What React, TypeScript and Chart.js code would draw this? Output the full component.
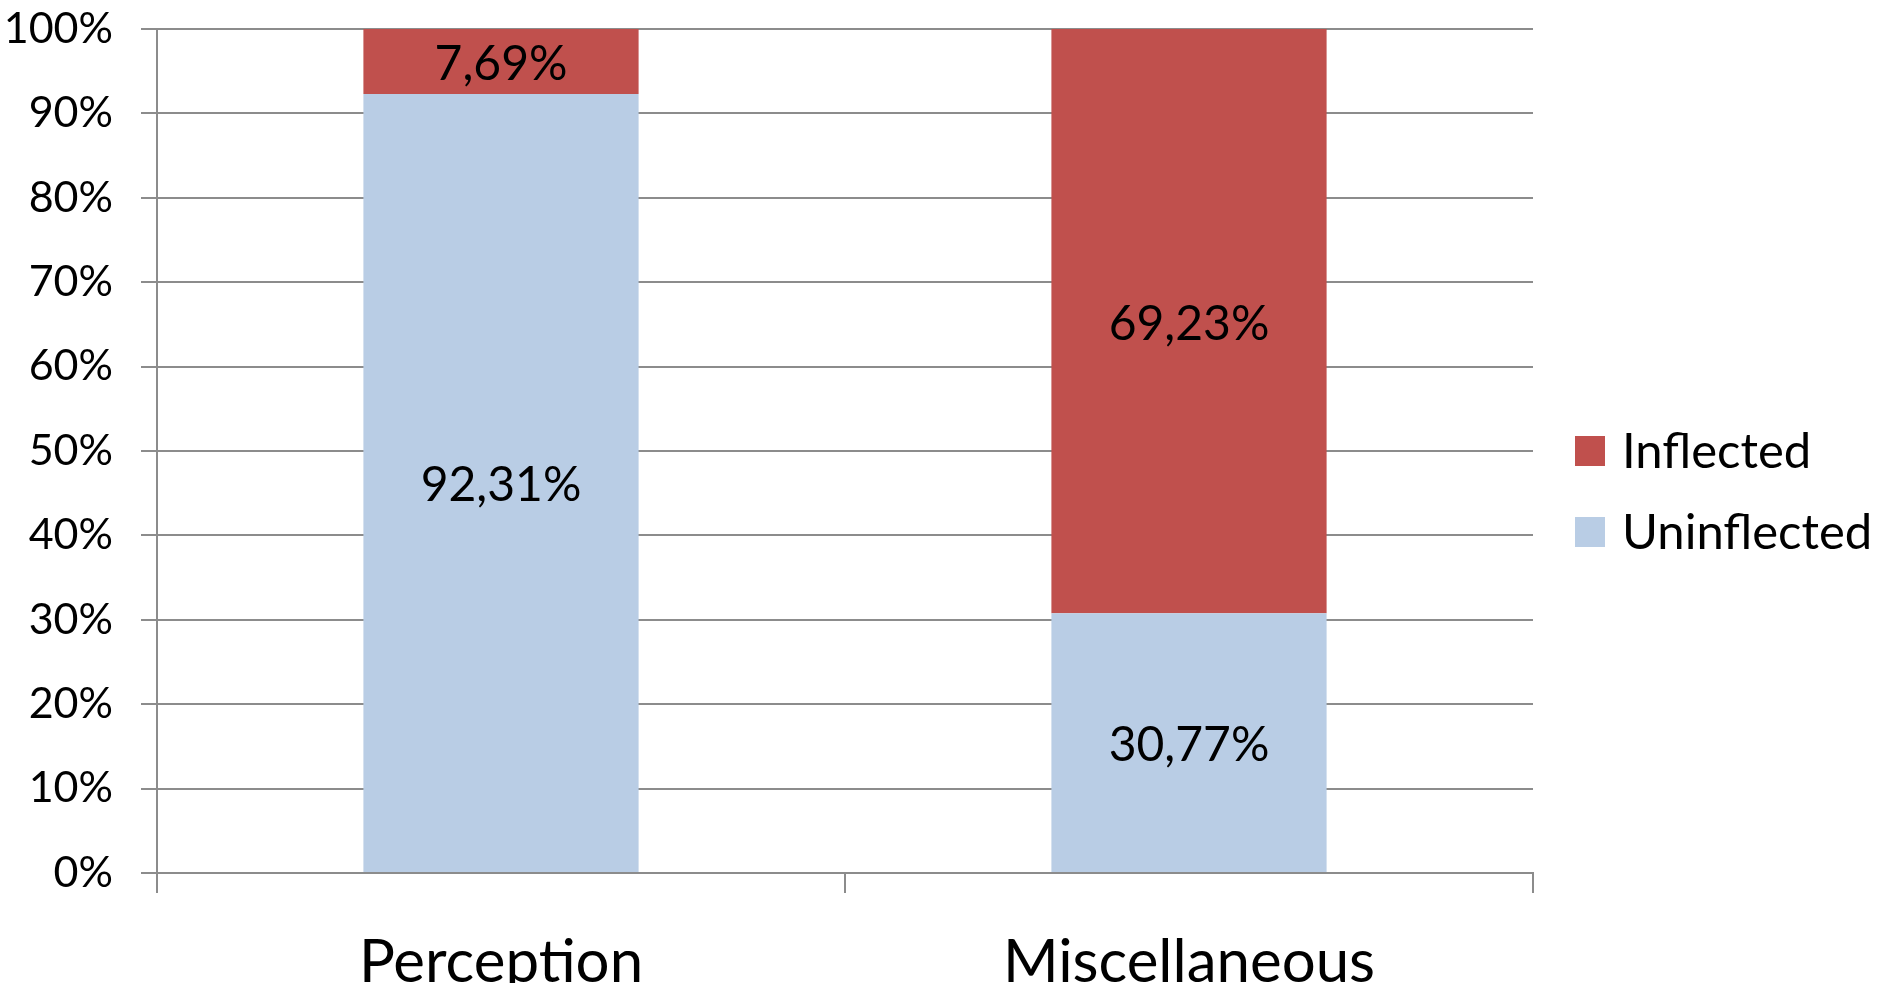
import React, { useEffect, useRef } from "react";
import { Chart, registerables } from "chart.js";

Chart.register(...registerables);

const categories = ["Perception", "Miscellaneous"];
const uninflected = [92.31, 30.77];
const inflected = [7.69, 69.23];
const seriesNames = ["Uninflected", "Inflected"];
const seriesColors = ["#B9CDE5", "#C0504D"];
const yTicks = [0, 10, 20, 30, 40, 50, 60, 70, 80, 90, 100];

const FONT = "Lato";

const fmt = (v: number) => v.toFixed(2).replace(".", ",") + "%";

const dataLabelPlugin = {
  id: "dataLabels",
  afterDatasetsDraw(chart: any) {
    const ctx = chart.ctx;
    ctx.save();
    ctx.font = `48px ${FONT}`;
    ctx.fillStyle = "#000";
    ctx.textAlign = "center";
    ctx.textBaseline = "middle";
    chart.data.datasets.forEach((ds: any, di: number) => {
      const meta = chart.getDatasetMeta(di);
      meta.data.forEach((bar: any, i: number) => {
        const p = bar.getProps(["x", "y", "base"], true);
        ctx.fillText(fmt(ds.data[i]), p.x, (p.y + p.base) / 2 + 3);
      });
    });
    ctx.restore();
  },
};

const sideLegendPlugin = {
  id: "sideLegend",
  afterDraw(chart: any) {
    const ctx = chart.ctx;
    const area = chart.chartArea;
    const items = chart.data.datasets.map((d: any) => ({ label: d.label, color: d.backgroundColor })).reverse();
    const box = 30;
    const gap = 81;
    const x0 = area.right + 42;
    const cy = chart.height / 2;
    ctx.save();
    ctx.font = `49px ${FONT}`;
    ctx.textAlign = "left";
    ctx.textBaseline = "middle";
    items.forEach((it: any, i: number) => {
      const yc = cy + (i - (items.length - 1) / 2) * gap;
      ctx.fillStyle = it.color;
      ctx.fillRect(x0, yc - box / 2, box, box);
      ctx.fillStyle = "#000";
      ctx.fillText(it.label, x0 + box + 17, yc + 1);
    });
    ctx.restore();
  },
};

export default function App() {
  const ref = useRef<HTMLCanvasElement>(null);
  useEffect(() => {
    if (!ref.current) return;
    const chart = new Chart(ref.current, {
      type: "bar",
      data: {
        labels: categories,
        datasets: [
          { label: seriesNames[0], data: uninflected, backgroundColor: seriesColors[0] },
          { label: seriesNames[1], data: inflected, backgroundColor: seriesColors[1] },
        ],
      },
      options: {
        animation: false,
        responsive: false,
        devicePixelRatio: 1,
        layout: { padding: { top: 29, right: 351, left: 0, bottom: 0 } },
        datasets: { bar: { barPercentage: 0.4, categoryPercentage: 1 } },
        plugins: { legend: { display: false }, tooltip: { enabled: false } },
        scales: {
          x: {
            stacked: true,
            grid: { drawOnChartArea: false, drawTicks: true, tickLength: 20, color: "#8c8c8c", lineWidth: 2 },
            border: { display: true, color: "#8c8c8c", width: 2 },
            ticks: { color: "#000", font: { family: FONT, size: 60 }, padding: 34 },
            afterFit: (s: any) => { s.height = 110; s.paddingLeft = 0; s.paddingRight = 0; },
          },
          y: {
            stacked: true,
            min: 0,
            max: 100,
            afterBuildTicks: (s: any) => { s.ticks = yTicks.map((v) => ({ value: v })); },
            grid: { color: "#8c8c8c", lineWidth: 2, tickLength: 16 },
            border: { display: true, color: "#8c8c8c", width: 2 },
            ticks: { color: "#000", font: { family: FONT, size: 43 }, padding: 28, callback: (v: any) => v + "%" },
            afterFit: (s: any) => { s.width = 157; s.paddingTop = 0; s.paddingBottom = 0; },
          },
        },
      },
      plugins: [dataLabelPlugin, sideLegendPlugin],
    });
    return () => chart.destroy();
  }, []);
  return (
    <div style={{ position: "fixed", left: 0, top: 0, width: 1884, height: 983, background: "#fff" }}>
      <canvas ref={ref} width={1884} height={983} style={{ width: 1884, height: 983 }} />
    </div>
  );
}
